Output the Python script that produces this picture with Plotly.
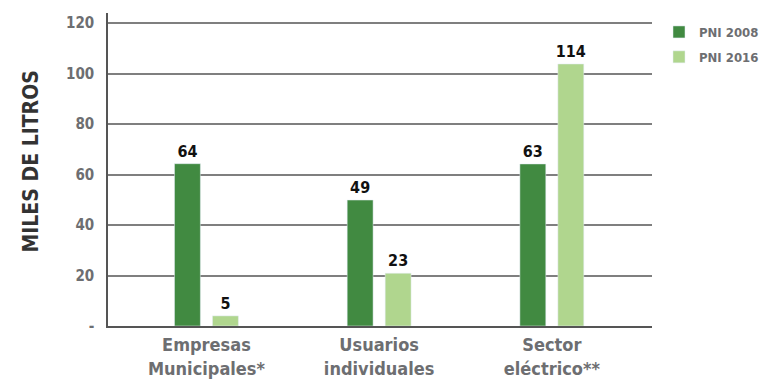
import plotly.graph_objects as go

categories = ["Empresas<br>Municipales*", "Usuarios<br>individuales", "Sector<br>eléctrico**"]
series_names = ["PNI 2008", "PNI 2016"]
labels_2008 = [64, 49, 63]
labels_2016 = [5, 23, 114]
# bar heights as drawn in the reference graphic
heights_2008 = [64.3, 49.9, 64.2]
heights_2016 = [4.0, 20.9, 103.8]
tick_vals = [0, 20, 40, 60, 80, 100, 120]
tick_text = ["-", "20", "40", "60", "80", "100", "120"]
y_title = "MILES DE LITROS"

FONT = "DejaVu Sans Condensed, Liberation Sans Narrow, Arial Narrow, sans-serif"
DARK = "#418a41"
LIGHT = "#b0d68e"
GRAY = "#6d6e71"

x = list(range(len(categories)))

fig = go.Figure()
for heights, labels, name, color, off in [
    (heights_2008, labels_2008, series_names[0], DARK, -0.185),
    (heights_2016, labels_2016, series_names[1], LIGHT, 0.035),
]:
    fig.add_trace(go.Bar(
        x=x, y=heights, name=name, marker_color=color,
        width=0.15, offset=off, legendgroup=name,
        text=[str(v) for v in labels], textposition="outside",
        textfont=dict(family=FONT, size=16, color="#111111", weight="bold"),
        constraintext="none",
        cliponaxis=False,
    ))

fig.update_layout(
    width=761, height=379,
    margin=dict(l=108, r=109, t=13, b=53, autoexpand=False),
    paper_bgcolor="white", plot_bgcolor="white",
    font=dict(family=FONT, color=GRAY),
    barmode="overlay",
    legend=dict(
        x=659 / 761, y=1 - 17 / 379, xanchor="left", yanchor="top",
        xref="container", yref="container",
        font=dict(family=FONT, size=13, color=GRAY, weight="bold"),
        itemwidth=30, tracegroupgap=5,
        bgcolor="rgba(0,0,0,0)",
    ),
    xaxis=dict(
        range=[-0.57, 2.58],
        tickvals=x, ticktext=categories,
        tickfont=dict(family=FONT, size=18, color=GRAY, weight="bold"),
        showgrid=False, zeroline=False,
        showline=True, linecolor="#555555", linewidth=1.5,
        ticks="", automargin=False, ticklabelstandoff=2,
    ),
    yaxis=dict(
        range=[0, 124],
        tickvals=tick_vals, ticktext=tick_text,
        tickfont=dict(family=FONT, size=15, color=GRAY, weight="bold"),
        showgrid=True, gridcolor="#7f7f7f", gridwidth=1.5,
        zeroline=False,
        showline=True, linecolor="#555555", linewidth=1.5,
        ticks="", ticklabelstandoff=9, automargin=False,
    ),
    annotations=[dict(
        text=y_title, textangle=-90,
        xref="paper", yref="paper", x=0, y=0.5,
        xanchor="center", yanchor="middle",
        xshift=-78, yshift=8, showarrow=False,
        font=dict(family=FONT, size=21, color="#333333", weight="bold"),
    )],
)

fig.write_html("out.html")
